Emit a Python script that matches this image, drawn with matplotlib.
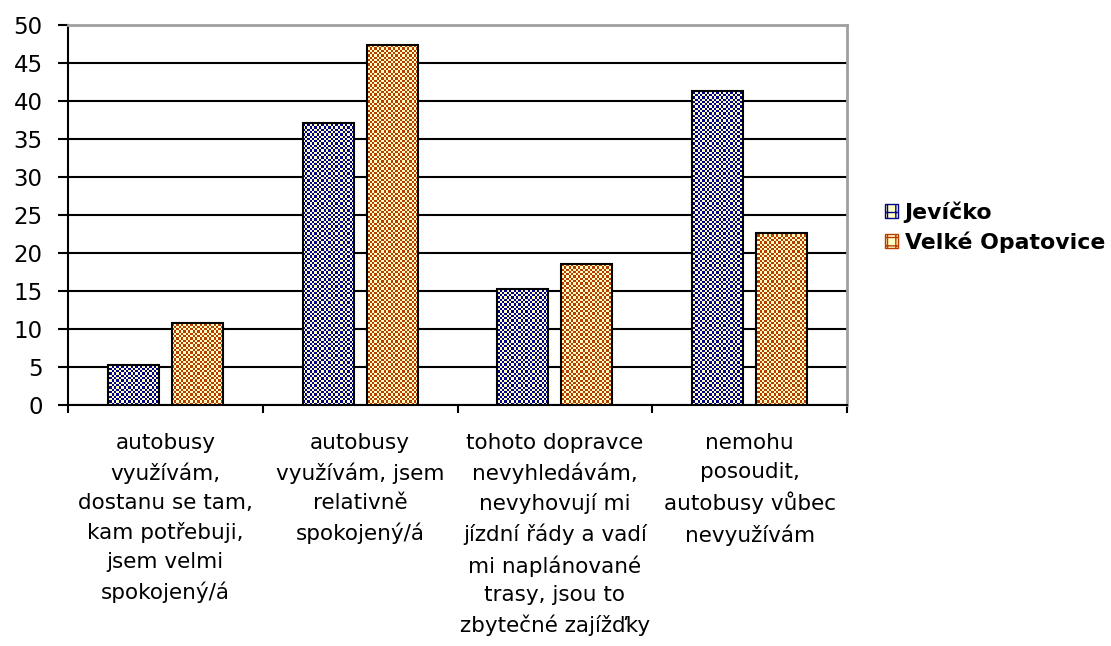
import matplotlib
matplotlib.use("Agg")
import matplotlib.pyplot as plt
import numpy as np
from matplotlib.colors import ListedColormap
from matplotlib.patches import Patch

# data
kategorie = [
    "autobusy\nvyužívám,\ndostanu se tam,\nkam potřebuji,\njsem velmi\nspokojený/á",
    "autobusy\nvyužívám, jsem\nrelativně\nspokojený/á",
    "tohoto dopravce\nnevyhledávám,\nnevyhovují mi\njízdní řády a vadí\nmi naplánované\ntrasy, jsou to\nzbytečné zajížďky",
    "nemohu\nposoudit,\nautobusy vůbec\nnevyužívám",
]
serie = ["Jevíčko", "Velké Opatovice"]
jevicko = [5.2, 37.1, 15.2, 41.3]
velke_opatovice = [10.8, 47.4, 18.6, 22.6]
y_ticks = [0, 5, 10, 15, 20, 25, 30, 35, 40, 45, 50]

plt.rcParams['font.family'] = ['DejaVu Sans']

krem = '#FFFFC4'
barvy = ['#000088', '#B83C00']

fig = plt.figure(figsize=(11.11, 6.46), dpi=100)
ax = fig.add_axes([68 / 1111, 1 - 405 / 646, (847 - 68) / 1111, 380 / 646])

x = np.arange(len(kategorie))
sirka = 0.262
posun = 0.164

# sachovnice jako vypln sloupcu (policko cca 2.3 px)
ny, nx = 165, 339
yy, xx = np.indices((ny, nx))
sachovnice = (xx + yy) % 2

for hodnoty, p, barva in zip([jevicko, velke_opatovice], [-posun, posun], barvy):
    sloupce = ax.bar(x + p, hodnoty, sirka, facecolor='none', edgecolor='black',
                     linewidth=1.5, zorder=4)
    cmap = ListedColormap([krem, barva])
    for s in sloupce:
        img = ax.imshow(sachovnice, cmap=cmap, extent=(-0.5, len(kategorie) - 0.5, 0, 50),
                        aspect='auto', interpolation='nearest', origin='lower', zorder=3)
        img.set_clip_path(s)

ax.set_xlim(-0.5, len(kategorie) - 0.5)
ax.set_ylim(0, 50)

# osy
ax.set_yticks(y_ticks)
ax.tick_params(axis='y', length=7.2, width=1.5, pad=11, labelsize=16.5, colors='black')
ax.yaxis.grid(True, color='black', linewidth=1.5)
ax.set_axisbelow(True)

ax.set_xticks(x, kategorie)
ax.tick_params(axis='x', which='major', length=0, pad=20, labelsize=15.5)
for t in ax.get_xticklabels():
    t.set_linespacing(1.55)
ax.set_xticks(np.arange(-0.5, len(kategorie), 1), minor=True)
ax.tick_params(axis='x', which='minor', length=6, width=1.5, direction='out')

for strana in ['left', 'bottom']:
    ax.spines[strana].set_color('black')
    ax.spines[strana].set_linewidth(1.5)
for strana in ['top', 'right']:
    ax.spines[strana].set_color('#A0A0A0')
    ax.spines[strana].set_linewidth(2)

# legenda
handles = [Patch(facecolor=krem, edgecolor=b, hatch='++', linewidth=1) for b in barvy]
fig.legend(handles, serie, loc='center left', bbox_to_anchor=(874 / 1111, 1 - 227 / 646),
           frameon=False, prop={'weight': 'bold', 'size': 15.8}, handlelength=0.6,
           handleheight=0.6, handletextpad=0.3, labelspacing=0.4, borderpad=0)

fig.savefig('out.png', dpi=100)
